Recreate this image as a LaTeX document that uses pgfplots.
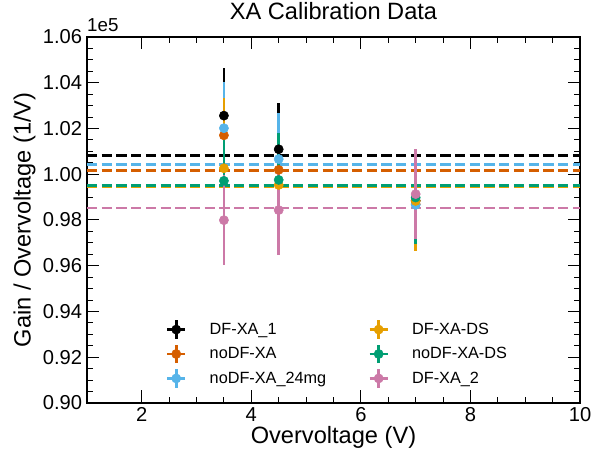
\documentclass[border=0pt]{standalone}
\usepackage{pgfplots}
\pgfplotsset{compat=1.18}
\usepackage{fontspec}
\setmainfont{Liberation Sans}
\definecolor{cBk}{HTML}{000000}
\definecolor{cOr}{HTML}{D55E00}
\definecolor{cLb}{HTML}{56B4E9}
\definecolor{cYe}{HTML}{E69F00}
\definecolor{cGr}{HTML}{009E73}
\definecolor{cPk}{HTML}{CC79A7}
\pgfplotsset{
  ebleg/.style={legend image code/.code={
    \draw[line width=2pt,#1] (0.07cm,0cm) -- (0.53cm,0cm);
    \draw[line width=2pt,#1] (0.3cm,-0.23cm) -- (0.3cm,0.23cm);
    \fill[#1] (0.3cm,0cm) circle (3.3pt);
    \path (0cm,0cm) (1.07cm,0cm);}},
  ebars/.style={only marks, mark=none, forget plot,
    error bars/.cd, y dir=both, y explicit, error mark=none,
    error bar style={line width=2pt, #1}},
  mks/.style={only marks, mark=*, mark size=3.3pt, forget plot,
    mark options={draw=#1, fill=#1}},
  hl/.style={forget plot, line width=2pt, #1, dash pattern=on 7.4pt off 3.2pt},
}
\begin{document}
\begin{tikzpicture}
\begin{axis}[
  scale only axis, width=355pt, height=263.5pt,
  clip mode=individual,
  xmin=1, xmax=10, ymin=0.90, ymax=1.06,
  xtick={2,4,6,8,10}, minor x tick num=3,
  ytick={0.90,0.92,0.94,0.96,0.98,1.00,1.02,1.04,1.06}, minor y tick num=3,
  tick align=inside, major tick length=9pt, minor tick length=4.5pt,
  every tick/.style={black, line width=0.7pt},
  axis line style={line width=1pt},
  /pgf/number format/assume math mode=true,
  yticklabel style={/pgf/number format/.cd, fixed, fixed zerofill, precision=2},
  ticklabel style={font=\fontsize{14.5}{16}\selectfont},
  title={XA Calibration Data},
  title style={font=\fontsize{17}{20}\selectfont, at={(axis description cs:0.5,1)}, anchor=base, yshift=6.5pt, inner sep=0pt},
  xlabel={Overvoltage (V)}, ylabel={Gain / Overvoltage (1/V)},
  label style={font=\fontsize{17}{20}\selectfont},
  xlabel style={at={(axis description cs:0.5,0)}, anchor=base, yshift=-29.5pt, inner sep=0pt},
  ylabel style={at={(axis description cs:0,0.5)}, anchor=north, yshift=53pt, inner sep=0pt},
  legend columns=2,
  legend cell align=left,
  legend style={draw=none, fill=none, at={(axis description cs:0.507,0.03)}, anchor=south,
    font=\fontsize{11.7}{14}\selectfont, row sep=2.5pt,
    /tikz/every even column/.append style={column sep=27pt}},
]
% mean lines
\addplot[hl=cBk] coordinates {(1,1.0083) (10,1.0083)};
\addplot[hl=cOr] coordinates {(1,1.0017) (10,1.0017)};
\addplot[hl=cLb] coordinates {(1,1.0044) (10,1.0044)};
\addplot[hl=cYe] coordinates {(1,0.9945) (10,0.9945)};
\addplot[hl=cGr] coordinates {(1,0.9949) (10,0.9949)};
\addplot[hl=cPk] coordinates {(1,0.9852) (10,0.9852)};
% error bars
\addplot[cBk, ebars=cBk] coordinates {(3.5,1.0256) +- (0,0.0207) (4.5,1.0109) +- (0,0.0204) (7,0.9884) +- (0,0.0200)};
\addplot[cOr, ebars=cOr] coordinates {(3.5,1.0170) +- (0,0.0200) (4.5,1.0019) +- (0,0.0200) (7,0.9869) +- (0,0.0200)};
\addplot[cLb, ebars=cLb] coordinates {(3.5,1.0201) +- (0,0.0202) (4.5,1.0066) +- (0,0.0203) (7,0.9866) +- (0,0.0200)};
\addplot[cYe, ebars=cYe] coordinates {(3.5,1.0026) +- (0,0.0309) (4.5,0.9953) +- (0,0.0200) (7,0.9883) +- (0,0.0218)};
\addplot[cGr, ebars=cGr] coordinates {(3.5,0.9971) +- (0,0.0200) (4.5,0.9975) +- (0,0.0207) (7,0.9898) +- (0,0.0201)};
\addplot[cPk, ebars=cPk] coordinates {(3.5,0.9799) +- (0,0.0196) (4.5,0.9843) +- (0,0.0195) (7,0.9913) +- (0,0.0196)};
% markers
\addplot[mks=cBk] coordinates {(3.5,1.0256) (4.5,1.0109) (7,0.9884)};
\addplot[mks=cOr] coordinates {(3.5,1.0170) (4.5,1.0019) (7,0.9869)};
\addplot[mks=cLb] coordinates {(3.5,1.0201) (4.5,1.0066) (7,0.9866)};
\addplot[mks=cYe] coordinates {(3.5,1.0026) (4.5,0.9953) (7,0.9883)};
\addplot[mks=cGr] coordinates {(3.5,0.9971) (4.5,0.9975) (7,0.9898)};
\addplot[mks=cPk] coordinates {(3.5,0.9799) (4.5,0.9843) (7,0.9913)};
% legend
\addlegendimage{ebleg=cBk}\addlegendentry{DF-XA\_1}
\addlegendimage{ebleg=cYe}\addlegendentry{DF-XA-DS}
\addlegendimage{ebleg=cOr}\addlegendentry{noDF-XA}
\addlegendimage{ebleg=cGr}\addlegendentry{noDF-XA-DS}
\addlegendimage{ebleg=cLb}\addlegendentry{noDF-XA\_24mg}
\addlegendimage{ebleg=cPk}\addlegendentry{DF-XA\_2}
\node[anchor=base west, font=\fontsize{13.5}{16}\selectfont, inner sep=0pt, yshift=3.6pt] at (rel axis cs:0,1) {1e5};
\end{axis}
\pgfresetboundingbox
\path ([shift={(-62.6pt,-37.4pt)}]current axis.south west) rectangle ([shift={(7.9pt,26.6pt)}]current axis.north east);
\end{tikzpicture}
\end{document}
